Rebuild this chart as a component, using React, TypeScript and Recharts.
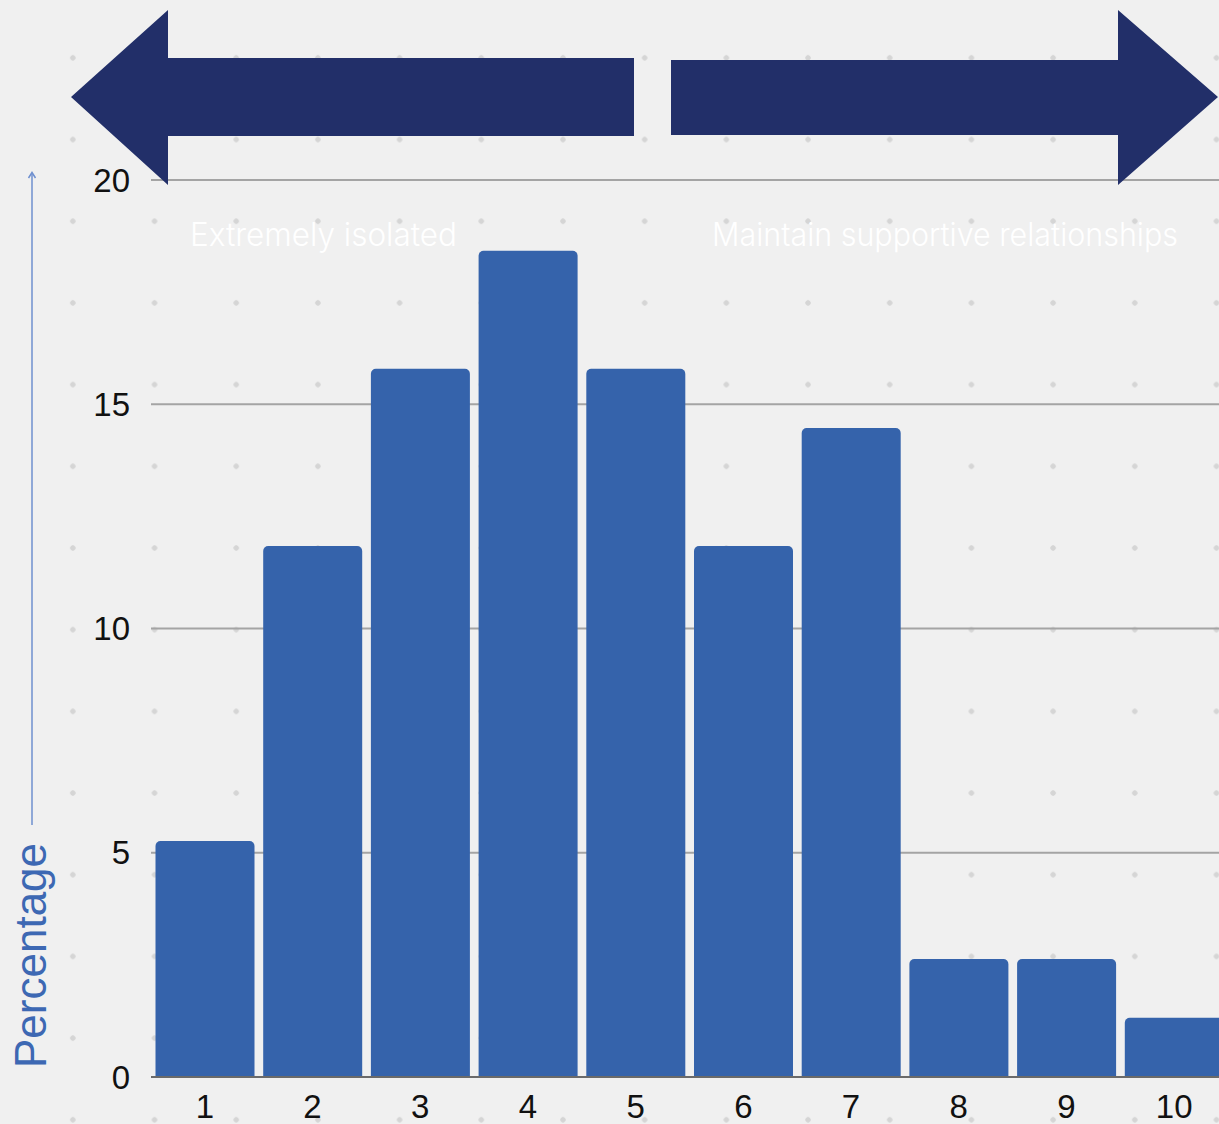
import { BarChart, Bar, XAxis, YAxis, CartesianGrid } from 'recharts'

const scores = ['1', '2', '3', '4', '5', '6', '7', '8', '9', '10']
const percentages = [5.26, 11.84, 15.79, 18.42, 15.79, 11.84, 14.47, 2.63, 2.63, 1.32]
const yTicks = [0, 5, 10, 15, 20]
const leftLabel = 'Extremely isolated'
const rightLabel = 'Maintain supportive relationships'
const yLabel = 'Percentage'

const data = scores.map((score, i) => ({ score, value: percentages[i] }))

const axisFont = '"Liberation Sans", Arial, sans-serif'

export default function App() {
  return (
    <div
      style={{
        position: 'fixed',
        left: 0,
        top: 0,
        width: 1219,
        height: 1124,
        overflow: 'hidden',
        backgroundColor: '#f0f0f0',
        backgroundImage: 'radial-gradient(circle, #d5d5d5 2.4px, transparent 3px)',
        backgroundSize: '81.7px 81.7px',
        backgroundPosition: '32px 17px',
      }}
    >
      <BarChart
        width={1228}
        height={1124}
        data={data}
        margin={{ top: 180, right: 0, left: 0, bottom: 0 }}
        barCategoryGap={4.5}
      >
        <CartesianGrid horizontal vertical={false} stroke="#a4a4a4" strokeWidth={2} />
        <XAxis
          dataKey="score"
          height={47}
          tickLine={false}
          axisLine={{ stroke: '#6a6a6a', strokeWidth: 2 }}
          tickMargin={12}
          tick={{ fontSize: 33, fill: '#111', fontFamily: axisFont }}
        />
        <YAxis
          type="number"
          domain={[0, 20]}
          ticks={yTicks}
          width={151}
          tickLine={false}
          axisLine={false}
          tickMargin={15}
          tick={{ fontSize: 33, fill: '#111', fontFamily: axisFont }}
        />
        <Bar dataKey="value" fill="#3563ab" radius={[5, 5, 0, 0]} isAnimationActive={false} />
      </BarChart>

      <svg
        width={1219}
        height={1124}
        style={{ position: 'absolute', left: 0, top: 0, pointerEvents: 'none' }}
      >
        {/* direction arrows */}
        <polygon points="71,97 168,10 168,58 634,58 634,136 168,136 168,185" fill="#222f69" />
        <polygon points="1218,97 1118,10 1118,60 671,60 671,135 1118,135 1118,185" fill="#222f69" />

        <text
          x={190}
          y={246}
          fill="#ffffff"
          fontSize={32}
          fontWeight={300}
          fontFamily="Inter, sans-serif"
          textLength={267}
          lengthAdjust="spacingAndGlyphs"
        >
          {leftLabel}
        </text>
        <text
          x={712}
          y={246}
          fill="#ffffff"
          fontSize={32}
          fontWeight={300}
          fontFamily="Inter, sans-serif"
          textLength={466}
          lengthAdjust="spacingAndGlyphs"
        >
          {rightLabel}
        </text>

        {/* y axis title with arrow */}
        <text
          transform="translate(46,1068) rotate(-90)"
          fill="#3d68b3"
          fontSize={44}
          fontFamily={axisFont}
        >
          {yLabel}
        </text>
        <line x1={32} y1={825} x2={32} y2={173} stroke="#6f90cf" strokeWidth={1.5} />
        <polyline points="28.5,178 32,172.5 35.5,178" fill="none" stroke="#6f90cf" strokeWidth={1.5} />
      </svg>
    </div>
  )
}
